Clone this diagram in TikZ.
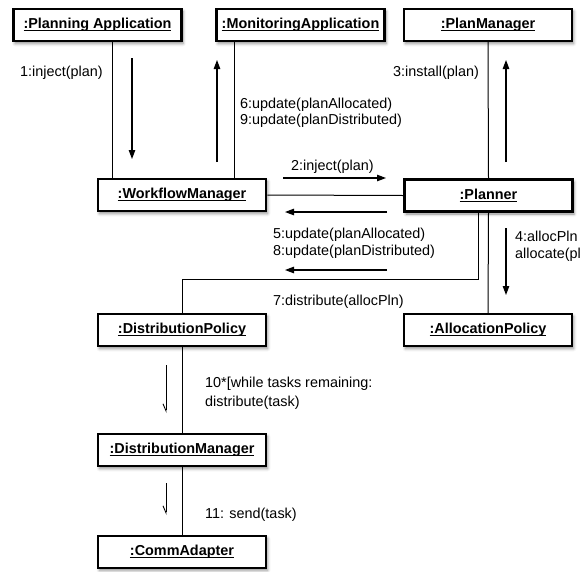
\documentclass[tikz,border=0pt]{standalone}
\usepackage{fontspec}
\setmainfont{Liberation Sans}
\usetikzlibrary{arrows.meta}
\usetikzlibrary{shadows.blur}

\newcommand{\objname}[1]{\setbox0=\hbox{\bfseries #1}%
  \makebox[0pt][l]{\rule[-2.2pt]{\wd0}{0.9pt}}\box0}

\begin{document}
\begin{tikzpicture}[x=1pt,y=-1pt]
\useasboundingbox (0,0) rectangle (581,571);
\begin{scope}[every node/.style={rectangle,draw,fill=white,
                minimum width=168pt,minimum height=32pt,inner sep=0pt,
                blur shadow={shadow xshift=1.5pt,shadow yshift=-2.5pt,
                             shadow blur radius=3pt,shadow opacity=45},
                font=\fontsize{14.4}{17}\selectfont},
              heavy/.style={line width=2.6pt},
              light/.style={line width=1.3pt}]
    \node [heavy] (planapp) at (97.5, 25) {\objname{:Planning Application}};
    \node [heavy] (monapp) at (300.5, 25) {\objname{:MonitoringApplication}};
    \node [light] (planman) at (488.0, 25) {\objname{:PlanManager}};
    \node [heavy] (wfm) at (182.0, 195) {\objname{:WorkflowManager}};
    \node [heavy] (planner) at (488.5, 195.5) {\objname{:Planner}};
    \node [light] (distpol) at (182.0, 330) {\objname{:DistributionPolicy}};
    \node [light] (allocpol) at (488.0, 330) {\objname{:AllocationPolicy}};
    \node [heavy] (distman) at (182.0, 450) {\objname{:DistributionManager}};
    \node [heavy] (comm) at (182.0, 552) {\objname{:CommAdapter}};
\end{scope}
\begin{scope}[link/.style={draw=black,line width=1pt}]
    \draw [link] ([xshift=16pt]wfm.north west) -- ([xshift=16pt]wfm.north west |- planapp.south);
    \draw [link] ([xshift=-33pt]wfm.north east) -- ([xshift=-33pt]wfm.north east |- monapp.south);
    \draw [link] (planman.south) -- (planner.north);
    \draw [link] (wfm.east) -- (planner.west);
    \draw [link] ([xshift=-10pt]planner.south) |- ([yshift=34pt]distpol.north) -- (distpol.north);
    \draw [link] (planner.south) -- (allocpol.north);
    \draw [link] (distpol.south) -- (distman.north);
    \draw [link] (distman.south) -- (comm.north);
\end{scope}
% message arrows
\coordinate (m1a) at (132, 58);  \coordinate (m1b) at (132, 159);
\coordinate (m6a) at (217, 162); \coordinate (m6b) at (217, 60);
\coordinate (m3a) at (506, 162); \coordinate (m3b) at (506, 60);
\coordinate (m2a) at (283, 178); \coordinate (m2b) at (386, 178);
\coordinate (m5a) at (387, 212); \coordinate (m5b) at (285, 212);
\coordinate (m8a) at (387, 270); \coordinate (m8b) at (285, 270);
\coordinate (m4a) at (506, 228); \coordinate (m4b) at (506, 295);
\coordinate (m10a) at (166, 365); \coordinate (m10b) at (166, 413);
\coordinate (m11a) at (166, 483); \coordinate (m11b) at (166, 515);
\begin{scope}[msg/.style={line width=1.1pt,-{Triangle[length=9pt,width=6.5pt]}},
              async/.style={line width=0.9pt,-{Straight Barb[right,length=7pt,width=6pt]}}]
    \draw [msg] (m1a) -- (m1b);
    \draw [msg] (m6a) -- (m6b);
    \draw [msg] (m3a) -- (m3b);
    \draw [msg] (m2a) -- (m2b);
    \draw [msg] (m5a) -- (m5b);
    \draw [msg] (m8a) -- (m8b);
    \draw [msg] (m4a) -- (m4b);
    \draw [async] (m10a) -- (m10b);
    \draw [async] (m11a) -- (m11b);
\end{scope}
\begin{scope}[every node/.style={inner sep=0pt,anchor=base west,align=left,
                font=\fontsize{14.4}{16}\selectfont}]
    \node (l1) at (20, 76) {1:inject(plan)};
    \node (l3) at (393, 76) {3:install(plan)};
    \node (l69) at (240, 124) {6:update(planAllocated)\\9:update(planDistributed)};
    \node (l2) at (291, 170) {2:inject(plan)};
    \node (l58) at (273, 255) {5:update(planAllocated)\\[1pt]8:update(planDistributed)};
    \node (l4) at (515, 258) {4:allocPln\\[1pt]allocate(plan)};
    \node (l7) at (273, 305) {7:distribute(allocPln)};
    \node (l10) at (205, 406) {10*[while tasks remaining:\\[3pt]distribute(task)};
    \node (l11) at (205, 518) {11: send(task)};
\end{scope}
\end{tikzpicture}
\end{document}
